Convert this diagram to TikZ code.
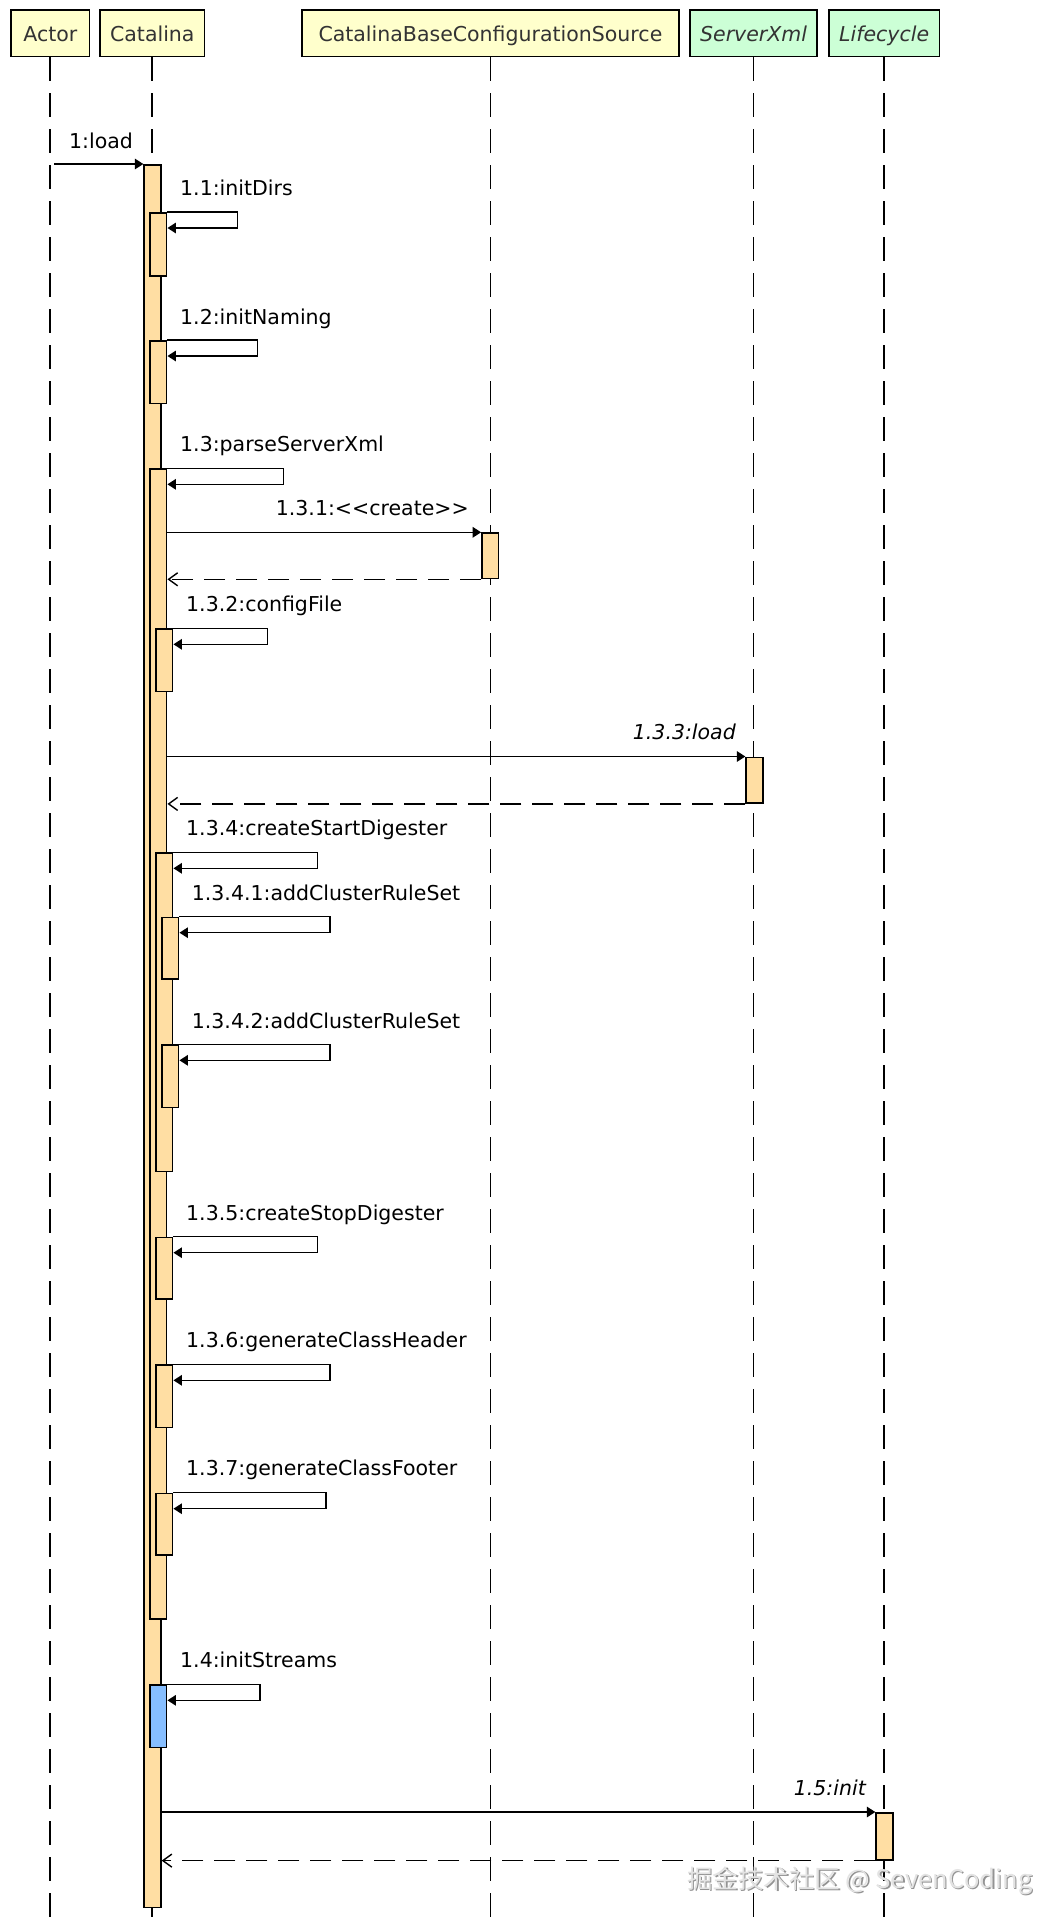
\documentclass[tikz,border=0pt]{standalone}
\usepackage{fontspec}
\setmainfont{DejaVu Sans}
\newfontfamily\cjkfont{Noto Sans CJK SC}
\usetikzlibrary{arrows.meta}
\definecolor{hdryellow}{RGB}{255,255,204}
\definecolor{hdrgreen}{RGB}{204,255,214}
\definecolor{actfill}{RGB}{255,222,163}
\definecolor{actblue}{RGB}{134,190,255}
\definecolor{hdrtext}{RGB}{51,51,51}
\begin{document}
\begin{tikzpicture}[x=1pt,y=-1pt,
  hdr/.style={draw=black, line width=1.6pt, minimum height=46.7pt, inner sep=0pt, text height=17pt, text depth=0pt, font=\fontsize{20.5}{24}\selectfont, text=hdrtext},
  lifeline/.style={line width=1.7pt, dash pattern=on 24pt off 12pt},
  act/.style={draw=black, line width=1.6pt, fill=actfill, minimum width=16.7pt, inner sep=0pt, anchor=north},
  msg/.style={line width=1.5pt, -{Triangle[length=8.5pt,width=10.5pt]}},
  ret/.style={line width=1.5pt, dash pattern=on 21pt off 11pt, -{Straight Barb[length=9pt,width=13pt,line width=1.4pt]}},
  lbl/.style={font=\fontsize{20.5}{24}\selectfont, inner sep=0pt, anchor=base west},
  ilbl/.style={font=\fontsize{20.5}{24}\selectfont\itshape, inner sep=0pt, anchor=base east},
  wmark/.style={anchor=base west, inner sep=0pt, font=\cjkfont\fontsize{25.5}{29}\selectfont},
]
\fill[white] (0,0) rectangle (1062,1928);
\useasboundingbox (0,0) rectangle (1062,1928);

% headers
\node[hdr, fill=hdryellow, minimum width=78.7pt] (hActor) at (50.3,33.3) {Actor};
\node[hdr, fill=hdryellow, minimum width=104.3pt] (hCat) at (152.3,33.3) {Catalina};
\node[hdr, fill=hdryellow, minimum width=377pt] (hCBCS) at (490.4,33.3) {CatalinaBaseConfigurationSource};
\node[hdr, fill=hdrgreen, minimum width=126.7pt, font=\fontsize{20.5}{24}\selectfont\itshape] (hSX) at (753.6,33.3) {ServerXml};
\node[hdr, fill=hdrgreen, minimum width=110.7pt, font=\fontsize{20.5}{24}\selectfont\itshape] (hLC) at (884.2,33.3) {Lifecycle};

% lifelines
\coordinate (bottom) at (0,1918);
\foreach \h in {hActor,hCat,hCBCS,hSX,hLC}{
  \draw[lifeline] (\h.south) -- (\h.south |- bottom);
}

% activations
\node[act, minimum height=1742.7pt] (aMain) at (152.5,164) {};
\node[act, minimum height=63pt] (a11) at (158.3,212) {};
\node[act, minimum height=62.7pt] (a12) at (158.3,340) {};
\node[act, minimum height=1150pt] (a13) at (158.3,468.3) {};
\node[act, minimum height=45.4pt] (aCBCS) at (490.3,532.3) {};
\node[act, minimum height=62.4pt] (a132) at (164.3,628.3) {};
\node[act, minimum height=45.8pt] (aSX) at (754.5,756.5) {};
\node[act, minimum height=318.4pt] (a134) at (164.3,852.3) {};
\node[act, minimum height=61.6pt] (a1341) at (170.3,916.7) {};
\node[act, minimum height=62.4pt] (a1342) at (170.3,1044.3) {};
\node[act, minimum height=61.6pt] (a135) at (164.3,1236.7) {};
\node[act, minimum height=62.4pt] (a136) at (164.3,1364.3) {};
\node[act, minimum height=61.6pt] (a137) at (164.3,1492.7) {};
\node[act, minimum height=62.4pt, fill=actblue] (a14) at (158.3,1684.3) {};
\node[act, minimum height=47pt] (aLC) at (884.5,1812) {};

% messages
\path (hActor.south |- aMain.north) ++(3.7,0) coordinate (s1);
\draw[msg] (s1) -- (aMain.north west);
\node[lbl] (l1) at (69,148) {1:load};

\foreach \b/\w in {a11/70, a12/90, a13/116, a132/94, a134/144, a1341/150.6, a1342/150.6, a135/144, a136/156.3, a137/152.3, a14/92.3}{
  \draw[msg] (\b.north east) -- ++(\w,0) -- ++(0,16) -- ([yshift=-16pt]\b.north east);
}

\draw[msg] (a13.east |- aCBCS.north) -- (aCBCS.north west);
\draw[ret] (aCBCS.south west) -- (a13.east |- aCBCS.south);
\draw[msg] (a13.east |- aSX.north) -- (aSX.north west);
\draw[ret] (aSX.south west) -- (a13.east |- aSX.south);
\draw[msg] (aMain.east |- aLC.north) -- (aLC.north west);
\draw[ret] (aLC.south west) -- (aMain.east |- aLC.south);

% labels
\node[lbl] (l11) at (180,195) {1.1:initDirs};
\node[lbl] (l12) at (180,324) {1.2:initNaming};
\node[lbl] (l13) at (180,451.7) {1.3:parseServerXml};
\node[lbl] (l131) at (275.7,515) {1.3.1:<{}<create>{}>};
\node[lbl] (l132) at (186,611.7) {1.3.2:configFile};
\node[ilbl] (l133) at (736,739.3) {1.3.3:load};
\node[lbl] (l134) at (186,835) {1.3.4:createStartDigester};
\node[lbl] (l1341) at (191.7,900) {1.3.4.1:addClusterRuleSet};
\node[lbl] (l1342) at (191.7,1028.3) {1.3.4.2:addClusterRuleSet};
\node[lbl] (l135) at (186,1220) {1.3.5:createStopDigester};
\node[lbl] (l136) at (186,1347.7) {1.3.6:generateClassHeader};
\node[lbl] (l137) at (186,1475.7) {1.3.7:generateClassFooter};
\node[lbl] (l14) at (180,1667.7) {1.4:initStreams};
\node[ilbl] (l15) at (866,1795) {1.5:init};

% watermark
\node[wmark, text=gray!85] (wms) at (688.3,1889.3) {掘金技术社区 @ SevenCoding};
\node[wmark, text=gray!22] (wm) at (687,1888) {掘金技术社区 @ SevenCoding};
\end{tikzpicture}
\end{document}
